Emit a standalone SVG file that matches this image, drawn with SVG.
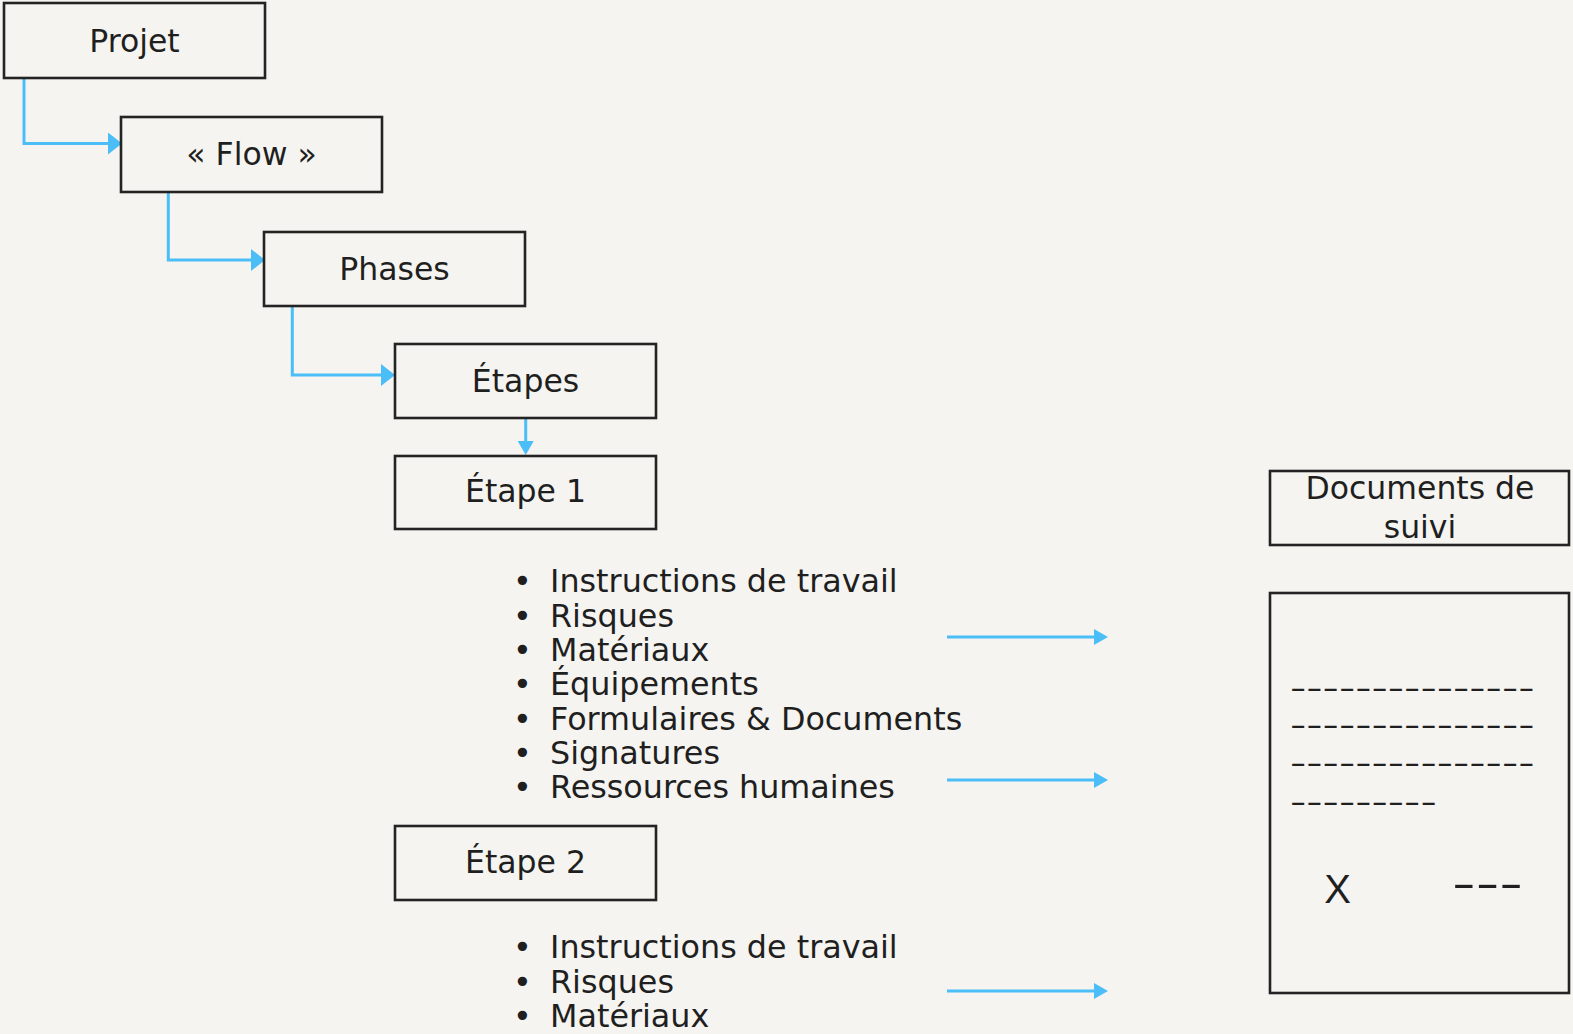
<svg xmlns="http://www.w3.org/2000/svg" width="1573" height="1034" viewBox="0 0 1573 1034">
<style>
.box{fill:none;stroke:#232323;stroke-width:2.6}
.lbl{font-family:"DejaVu Sans","Liberation Sans",sans-serif;font-size:31.5px;fill:#1f1f1f;text-anchor:middle}
.li{font-family:"DejaVu Sans","Liberation Sans",sans-serif;font-size:31.8px;fill:#1f1f1f}
.dash{font-family:"Liberation Sans",sans-serif;font-size:30px;fill:#1f1f1f}
.con{fill:none;stroke:#4bbdf7;stroke-width:3}
</style>
<defs>
<marker id="ah" markerUnits="userSpaceOnUse" markerWidth="14" markerHeight="22" refX="0" refY="11" orient="auto" viewBox="0 0 14 22">
<path d="M0,0 L14,11 L0,22 Z" fill="#4bbdf7"/>
</marker>
<marker id="as" markerUnits="userSpaceOnUse" markerWidth="14" markerHeight="16" refX="0" refY="8" orient="auto" viewBox="0 0 14 16">
<path d="M0,0 L14,8 L0,16 Z" fill="#4bbdf7"/>
</marker>
</defs>
<rect x="0" y="0" width="1573" height="1034" fill="#f5f4f0"/>

<g id="connectors">
<path class="con" d="M24,79 V143.5 H108" marker-end="url(#ah)"/>
<path class="con" d="M168.3,192 V260 H251" marker-end="url(#ah)"/>
<path class="con" d="M292.3,306 V375 H381" marker-end="url(#ah)"/>
<path class="con" d="M525.7,418 V441" marker-end="url(#as)"/>
<path class="con" d="M947,637 H1094" marker-end="url(#as)"/>
<path class="con" d="M947,780 H1094" marker-end="url(#as)"/>
<path class="con" d="M947,991 H1094" marker-end="url(#as)"/>
</g>

<g id="projet">
<rect class="box" x="4" y="3" width="261" height="75"/>
<text class="lbl" x="134.5" y="52">Projet</text>
</g>
<g id="flow">
<rect class="box" x="121" y="117" width="261" height="75"/>
<text class="lbl" x="251.5" y="165">« Flow »</text>
</g>
<g id="phases">
<rect class="box" x="264" y="232" width="261" height="74"/>
<text class="lbl" x="394.5" y="280">Phases</text>
</g>
<g id="etapes">
<rect class="box" x="395" y="344" width="261" height="74"/>
<text class="lbl" x="525.5" y="392">Étapes</text>
</g>
<g id="etape1">
<rect class="box" x="395" y="456" width="261" height="73"/>
<text class="lbl" x="525.5" y="502">Étape 1</text>
</g>
<g id="liste1">
<text class="li" y="592.3"><tspan x="513">•</tspan><tspan x="550">Instructions de travail</tspan></text>
<text class="li" y="626.6"><tspan x="513">•</tspan><tspan x="550">Risques</tspan></text>
<text class="li" y="660.9"><tspan x="513">•</tspan><tspan x="550">Matériaux</tspan></text>
<text class="li" y="695.2"><tspan x="513">•</tspan><tspan x="550">Équipements</tspan></text>
<text class="li" y="729.5"><tspan x="513">•</tspan><tspan x="550">Formulaires &amp; Documents</tspan></text>
<text class="li" y="763.8"><tspan x="513">•</tspan><tspan x="550">Signatures</tspan></text>
<text class="li" y="798.1"><tspan x="513">•</tspan><tspan x="550">Ressources humaines</tspan></text>
</g>
<g id="etape2">
<rect class="box" x="395" y="826" width="261" height="74"/>
<text class="lbl" x="525.5" y="873">Étape 2</text>
</g>
<g id="liste2">
<text class="li" y="958.3"><tspan x="513">•</tspan><tspan x="550">Instructions de travail</tspan></text>
<text class="li" y="992.6"><tspan x="513">•</tspan><tspan x="550">Risques</tspan></text>
<text class="li" y="1026.9"><tspan x="513">•</tspan><tspan x="550">Matériaux</tspan></text>
</g>
<g id="documents-de-suivi">
<rect class="box" x="1270" y="471" width="299" height="74"/>
<text class="lbl" x="1420" y="499">Documents de</text>
<text class="lbl" x="1420" y="538">suivi</text>
</g>
<g id="document">
<rect class="box" x="1270" y="593" width="299" height="400"/>
<text class="dash" x="1290" y="697.5" textLength="244.5" lengthAdjust="spacingAndGlyphs">---------------</text>
<text class="dash" x="1290" y="735" textLength="244.5" lengthAdjust="spacingAndGlyphs">---------------</text>
<text class="dash" x="1290" y="772.5" textLength="244.5" lengthAdjust="spacingAndGlyphs">---------------</text>
<text class="dash" x="1290" y="812" textLength="146.7" lengthAdjust="spacingAndGlyphs">---------</text>
<text x="1337.7" y="902.7" font-family="Liberation Sans, sans-serif" font-size="40" fill="#1f1f1f" text-anchor="middle">X</text>
<text x="1452" y="897" font-family="Liberation Sans, sans-serif" font-size="40" fill="#1f1f1f" textLength="71" lengthAdjust="spacingAndGlyphs">---</text>
</g>
</svg>
